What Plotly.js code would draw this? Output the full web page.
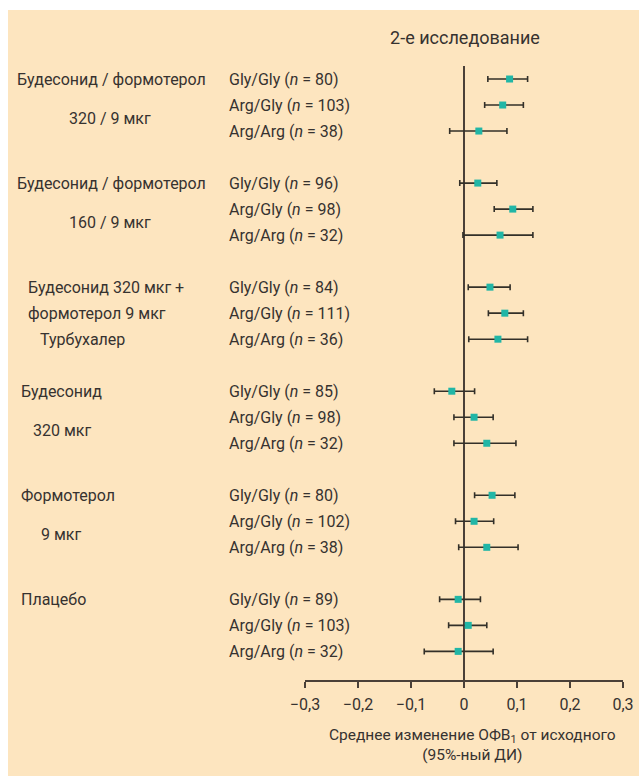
<!DOCTYPE html>
<html>
<head>
<meta charset="utf-8">
<script src="https://cdn.plot.ly/plotly-3.0.1.min.js"></script>
<style>html,body{margin:0;padding:0;background:#fff;}</style>
</head>
<body>
<div id="chart" style="width:639px;height:776px;"></div>
<script>
// ---- data ----
var groupLabels = [
  ["Будесонид / формотерол", "320 / 9 мкг"],
  ["Будесонид / формотерол", "160 / 9 мкг"],
  ["Будесонид 320 мкг +", "формотерол 9 мкг", "Турбухалер"],
  ["Будесонид", "320 мкг"],
  ["Формотерол", "9 мкг"],
  ["Плацебо"]
];
var genotypes = ["Gly/Gly", "Arg/Gly", "Arg/Arg"];
var nValues = [
  [80, 103, 38],
  [96, 98, 32],
  [84, 111, 36],
  [85, 98, 32],
  [80, 102, 38],
  [89, 103, 32]
];
var meanChange = [
  [0.086, 0.073, 0.028],
  [0.026, 0.092, 0.068],
  [0.049, 0.077, 0.064],
  [-0.023, 0.019, 0.043],
  [0.053, 0.019, 0.043],
  [-0.011, 0.008, -0.011]
];
var ciLow = [
  [0.045, 0.039, -0.027],
  [-0.008, 0.057, -0.002],
  [0.008, 0.046, 0.009],
  [-0.056, -0.019, -0.019],
  [0.020, -0.016, -0.010],
  [-0.046, -0.029, -0.075]
];
var ciHigh = [
  [0.120, 0.112, 0.081],
  [0.062, 0.130, 0.130],
  [0.087, 0.112, 0.120],
  [0.020, 0.055, 0.098],
  [0.096, 0.056, 0.102],
  [0.031, 0.043, 0.055]
];
var tickVals = [-0.3, -0.2, -0.1, 0, 0.1, 0.2, 0.3];
var tickText = ["\u22120,3", "\u22120,2", "\u22120,1", "0", "0,1", "0,2", "0,3"];
var titleText = "2-е исследование";
var xTitleText = "Среднее изменение ОФВ<sub>1</sub> от исходного<br>(95%-ный ДИ)";

// ---- layout geometry ----
var W = 639, H = 776;
var ML = 305, MR = 16, MT = 66, MB = 96;
var PW = W - ML - MR, PH = H - MT - MB;
function px2x(px) { return (px - ML) / PW; }
function py2y(py) { return (H - MB - py) / PH; }

var FONT = 'Roboto, "Liberation Sans", Arial, sans-serif';
var FS = 16;
var TXT = '#363230';
var LINE = '#4a4038';

var xs = [], ys = [], plus = [], minus = [], annotations = [];
for (var g = 0; g < meanChange.length; g++) {
  for (var r = 0; r < genotypes.length; r++) {
    var slot = g * 4 + r;
    xs.push(meanChange[g][r]);
    ys.push(slot);
    plus.push(ciHigh[g][r] - meanChange[g][r]);
    minus.push(meanChange[g][r] - ciLow[g][r]);
    annotations.push({
      xref: 'paper', yref: 'y', x: px2x(227), y: slot, xanchor: 'left', yanchor: 'middle',
      text: genotypes[r] + ' (<i>n</i> = ' + nValues[g][r] + ')', showarrow: false,
      font: {family: FONT, size: FS, color: TXT}
    });
  }
}

// group label placement
var groupPlace = [
  [{c: 111, s: 0}, {c: 110, s: 1.5}],
  [{c: 111, s: 0}, {c: 110, s: 1.5}],
  [{l: 26, s: 0}, {l: 26, s: 1}, {l: 38, s: 2}],
  [{l: 19, s: 0}, {c: 62, s: 1.5}],
  [{l: 19, s: 0}, {c: 61, s: 1.5}],
  [{l: 19, s: 0}]
];
for (var g2 = 0; g2 < groupLabels.length; g2++) {
  for (var k = 0; k < groupLabels[g2].length; k++) {
    var p = groupPlace[g2][k];
    annotations.push({
      xref: 'paper', yref: 'y',
      x: px2x(p.c !== undefined ? p.c : p.l),
      xanchor: p.c !== undefined ? 'center' : 'left',
      y: g2 * 4 + p.s, yanchor: 'middle',
      text: groupLabels[g2][k], showarrow: false,
      font: {family: FONT, size: FS, color: TXT}
    });
  }
}

// x-axis title (placed as an annotation for exact position)
annotations.push({
  xref: 'paper', yref: 'paper', x: px2x(472), y: py2y(745),
  xanchor: 'center', yanchor: 'middle', align: 'center',
  text: xTitleText, showarrow: false,
  font: {family: FONT, size: 15.5, color: TXT}
});

var trace = {
  type: 'scatter', mode: 'markers',
  x: xs, y: ys,
  marker: {symbol: 'square', size: 7, color: '#21b6a6', line: {width: 0}},
  error_x: {type: 'data', symmetric: false, array: plus, arrayminus: minus,
            color: '#333029', thickness: 1.6, width: 3},
  hoverinfo: 'x', showlegend: false, cliponaxis: false
};

var layout = {
  width: W, height: H,
  margin: {l: ML, r: MR, t: MT, b: MB, pad: 0},
  paper_bgcolor: '#ffffff',
  plot_bgcolor: 'rgba(0,0,0,0)',
  font: {family: FONT, size: FS, color: TXT},
  showlegend: false,
  title: {
    text: titleText, xref: 'paper', x: px2x(465), xanchor: 'center',
    yref: 'container', y: 1 - 38 / H, yanchor: 'middle',
    font: {family: FONT, size: 18, color: TXT}
  },
  xaxis: {
    range: [-0.3, 0.3], tickvals: tickVals, ticktext: tickText,
    ticks: 'outside', ticklen: 6, tickwidth: 1.6, tickcolor: LINE,
    ticklabelstandoff: 3,
    showline: true, linecolor: LINE, linewidth: 1.6,
    zeroline: true, zerolinecolor: LINE, zerolinewidth: 2.2,
    showgrid: false, fixedrange: true,
    tickfont: {family: FONT, size: FS, color: TXT}
  },
  yaxis: {range: [23.1, -0.5], visible: false, fixedrange: true},
  shapes: [{
    type: 'rect', xref: 'paper', yref: 'paper', layer: 'below',
    x0: px2x(8), x1: px2x(W + 2), y0: py2y(H + 2), y1: py2y(10),
    fillcolor: '#fde5bf', line: {width: 0}
  }],
  annotations: annotations
};

Plotly.newPlot('chart', [trace], layout, {displayModeBar: false, staticPlot: true});
</script>
</body>
</html>
